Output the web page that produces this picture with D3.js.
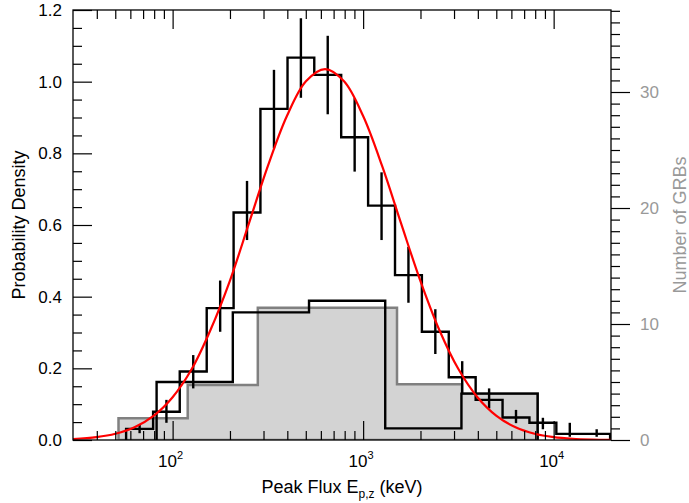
<!DOCTYPE html>
<html><head><meta charset="utf-8">
<script src="https://cdn.jsdelivr.net/npm/d3@7"></script>
<style>
body{margin:0;background:#fff}
svg{display:block}
text{font-family:"Liberation Sans",Arial,Helvetica,sans-serif}
</style>
</head><body>
<svg id="chart" width="689" height="503"></svg>
<script>
// ---------- data ----------
const xDomain = [30, 20000];
const yLeftDomain = [0, 1.2];
const yRightDomain = [0, 37.07];
const leftTicks = [0, 0.2, 0.4, 0.6, 0.8, 1.0, 1.2];
const rightTicks = [0, 10, 20, 30];
const xMajorTicks = [100, 1000, 10000];
const xTickExponents = ["2", "3", "4"];

// gray filled histogram (right axis, number of GRBs)
const grayEdges = [52, 120, 280, 1506, 3300, 8250];
const grayCounts = [1.87, 4.74, 11.4, 4.8, 4.0];

// coarse black histogram (right axis, number of GRBs)
const coarseEdges = [82.4, 207, 520, 1306, 3281, 8241];
const coarseCounts = [5, 11, 12, 1, 4];

// fine histogram with error bars (left axis, probability density)
const fineEdges = [57, 79, 109, 151, 209, 289, 401, 554, 767, 1062, 1470, 2034, 2815, 3896, 5393, 7464, 10330, 14296, 19787];
const fineDensity = [0.031, 0.079, 0.191, 0.368, 0.635, 0.924, 1.067, 1.019, 0.845, 0.654, 0.460, 0.302, 0.175, 0.112, 0.063, 0.048, 0.017, 0.017];
const fineErrLow  = [0.019, 0.048, 0.144, 0.302, 0.558, 0.814, 0.955, 0.909, 0.749, 0.558, 0.383, 0.240, 0.130, 0.088, 0.047, 0.030, 0.009, 0.009];
const fineErrHigh = [0.042, 0.112, 0.237, 0.445, 0.723, 1.033, 1.177, 1.128, 0.954, 0.747, 0.539, 0.365, 0.220, 0.144, 0.084, 0.062, 0.048, 0.030];

// red model curve (probability density)
const curveE = [30, 39.8, 50.1, 63.1, 79.4, 100, 126, 158, 200, 251, 316, 398, 501, 631, 794, 1000, 1259, 1585, 1995, 2512, 3162, 3981, 5012, 6310, 7943, 10000, 12589, 15849, 20000];
const curveD = [0.0028, 0.0081, 0.0175, 0.0355, 0.0674, 0.1195, 0.198, 0.307, 0.445, 0.603, 0.764, 0.904, 1.001, 1.035, 1.001, 0.904, 0.764, 0.603, 0.445, 0.307, 0.198, 0.1195, 0.0674, 0.0355, 0.0175, 0.0081, 0.0035, 0.0014, 0.0005];

// ---------- layout ----------
const W = 689, H = 503;
const m = {left: 73, right: 78, top: 10, bottom: 63};
const pw = W - m.left - m.right, ph = H - m.top - m.bottom;

const svg = d3.select("#chart");
const g = svg.append("g").attr("transform", `translate(${m.left},${m.top})`);

const x = d3.scaleLog().domain(xDomain).range([0, pw]);
const yL = d3.scaleLinear().domain(yLeftDomain).range([ph, 0]);
const yR = d3.scaleLinear().domain(yRightDomain).range([ph, 0]);

svg.append("defs").append("clipPath").attr("id", "clip")
  .append("rect").attr("x", 0).attr("y", 0).attr("width", pw).attr("height", ph);

const plot = g.append("g").attr("clip-path", "url(#clip)");

function stepPath(edges, vals, ys) {
  const p = d3.path();
  p.moveTo(x(edges[0]), ys(0));
  vals.forEach((v, i) => {
    p.lineTo(x(edges[i]), ys(v));
    p.lineTo(x(edges[i + 1]), ys(v));
  });
  p.lineTo(x(edges[edges.length - 1]), ys(0));
  return p.toString();
}

// gray histogram
plot.append("path")
  .attr("d", stepPath(grayEdges, grayCounts, yR) + "Z")
  .attr("fill", "#d3d3d3")
  .attr("stroke", "#808080")
  .attr("stroke-width", 2.5)
  .attr("stroke-linejoin", "miter");

// coarse black histogram
plot.append("path")
  .attr("d", stepPath(coarseEdges, coarseCounts, yR))
  .attr("fill", "none")
  .attr("stroke", "#000")
  .attr("stroke-width", 2.4);

// fine histogram
plot.append("path")
  .attr("d", stepPath(fineEdges, fineDensity, yL))
  .attr("fill", "none")
  .attr("stroke", "#000")
  .attr("stroke-width", 2.4);

// error bars at bin centres (geometric mean)
plot.append("g").selectAll("line")
  .data(fineDensity.map((d, i) => ({
    c: Math.sqrt(fineEdges[i] * fineEdges[i + 1]),
    lo: fineErrLow[i], hi: fineErrHigh[i]
  })))
  .join("line")
  .attr("x1", d => x(d.c)).attr("x2", d => x(d.c))
  .attr("y1", d => yL(d.lo)).attr("y2", d => yL(d.hi))
  .attr("stroke", "#000").attr("stroke-width", 2.4);

// red curve
plot.append("path")
  .datum(curveE.map((e, i) => [e, curveD[i]]))
  .attr("d", d3.line().x(d => x(d[0])).y(d => yL(d[1])).curve(d3.curveCatmullRom))
  .attr("fill", "none")
  .attr("stroke", "#ff0000")
  .attr("stroke-width", 2.2);

// ---------- axes ----------
const major = 19, minor = 9;
function styleAxis(sel, color) {
  sel.select(".domain").remove();
  sel.selectAll(".tick line").attr("stroke", "#000").attr("stroke-width", 1.2);
  sel.selectAll(".tick text").attr("fill", color || "#000").attr("font-size", 17);
}

// left
const leftMinor = d3.range(0, 24).map(i => i * 0.05).filter(v => Math.round(v * 100) % 20 !== 0);
g.append("g").call(d3.axisLeft(yL).tickValues(leftTicks).tickSize(-major).tickSizeOuter(0).tickPadding(11).tickFormat(d3.format(".1f")))
  .call(s => styleAxis(s));
g.append("g").call(d3.axisLeft(yL).tickValues(leftMinor).tickSize(-minor).tickSizeOuter(0).tickFormat(""))
  .call(s => styleAxis(s));

// right
const rightMinor = d3.range(1, 38).filter(v => v % 10 !== 0 && v <= 37);
g.append("g").attr("transform", `translate(${pw},0)`)
  .call(d3.axisRight(yR).tickValues(rightTicks).tickSize(major).tickSizeOuter(0).tickPadding(10))
  .call(s => styleAxis(s, "#999"));
g.append("g").attr("transform", `translate(${pw},0)`)
  .call(d3.axisRight(yR).tickValues(rightMinor).tickSize(minor).tickSizeOuter(0).tickFormat(""))
  .call(s => styleAxis(s));

// bottom & top log axes
const xMinor = [];
[10, 100, 1000, 10000].forEach(dec => { for (let k = 2; k <= 9; k++) { const v = dec * k; if (v > xDomain[0] && v < xDomain[1]) xMinor.push(v); } });
const bottomMaj = g.append("g").attr("transform", `translate(0,${ph})`)
  .call(d3.axisBottom(x).tickValues(xMajorTicks).tickSize(-major).tickSizeOuter(0).tickFormat(""))
  .call(s => styleAxis(s));
g.append("g").attr("transform", `translate(0,${ph})`)
  .call(d3.axisBottom(x).tickValues(xMinor).tickSize(-minor).tickSizeOuter(0).tickFormat(""))
  .call(s => styleAxis(s));
g.append("g")
  .call(d3.axisTop(x).tickValues(xMajorTicks).tickSize(-major).tickSizeOuter(0).tickFormat(""))
  .call(s => styleAxis(s));
g.append("g")
  .call(d3.axisTop(x).tickValues(xMinor).tickSize(-minor).tickSizeOuter(0).tickFormat(""))
  .call(s => styleAxis(s));

// x tick labels with superscripts
const xl = g.append("g").selectAll("text").data(xMajorTicks).join("text")
  .attr("x", d => x(d) - 2).attr("y", ph + 27)
  .attr("text-anchor", "middle").attr("font-size", 17).attr("fill", "#000");
xl.append("tspan").text("10");
xl.append("tspan").attr("dy", -8).attr("font-size", 11).text((d, i) => xTickExponents[i]);

// frame
g.append("rect").attr("x", 0).attr("y", 0).attr("width", pw).attr("height", ph)
  .attr("fill", "none").attr("stroke", "#000").attr("stroke-width", 1.3);

// axis titles
const xt = svg.append("text").attr("x", m.left + pw / 2).attr("y", 493)
  .attr("text-anchor", "middle").attr("font-size", 18).attr("fill", "#000");
xt.append("tspan").text("Peak Flux E");
xt.append("tspan").attr("dy", 5).attr("font-size", 12).text("p,z");
xt.append("tspan").attr("dy", -5).text(" (keV)");

svg.append("text").attr("transform", `translate(25,${m.top + ph / 2}) rotate(-90)`)
  .attr("text-anchor", "middle").attr("font-size", 18).attr("fill", "#000")
  .text("Probability Density");

svg.append("text").attr("transform", `translate(686,${m.top + ph / 2}) rotate(-90)`)
  .attr("text-anchor", "middle").attr("font-size", 18).attr("fill", "#999")
  .text("Number of GRBs");
</script>
</body></html>
